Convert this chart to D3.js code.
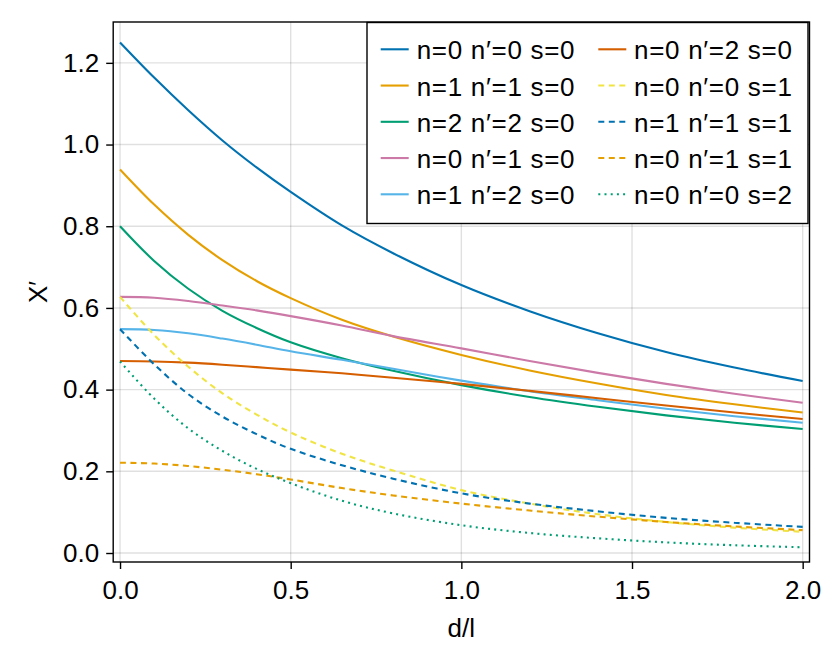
<!DOCTYPE html>
<html>
<head>
<meta charset="utf-8">
<script src="https://cdn.jsdelivr.net/npm/d3@7"></script>
<style>
  html, body { margin: 0; padding: 0; background: #fff; }
  svg { display: block; }
  text { font-family: "Liberation Sans", Arial, Helvetica, sans-serif; fill: #000; }
</style>
</head>
<body>
<svg id="chart" width="830" height="664"></svg>
<script>
// ---------- data ----------
const xs = [0, 0.1, 0.2, 0.3, 0.4, 0.5, 0.65, 0.8, 1.0, 1.2, 1.4, 1.6, 1.8, 2.0];

const s_n0_n0_s0 = [1.25, 1.164, 1.084, 1.010, 0.944, 0.884, 0.802, 0.734, 0.656, 0.592, 0.538, 0.492, 0.454, 0.421];
const s_n1_n1_s0 = [0.939, 0.853, 0.779, 0.717, 0.666, 0.624, 0.571, 0.530, 0.485, 0.447, 0.415, 0.387, 0.364, 0.344];
const s_n2_n2_s0 = [0.80, 0.715, 0.647, 0.593, 0.551, 0.516, 0.477, 0.446, 0.411, 0.382, 0.358, 0.337, 0.319, 0.3035];
const s_n0_n1_s0 = [0.627, 0.625, 0.617, 0.606, 0.594, 0.580, 0.557, 0.531, 0.501, 0.470, 0.441, 0.414, 0.390, 0.368];
const s_n1_n2_s0 = [0.548, 0.546, 0.538, 0.525, 0.51, 0.494, 0.473, 0.451, 0.422, 0.396, 0.374, 0.353, 0.335, 0.319];
const s_n0_n2_s0 = [0.470, 0.469, 0.466, 0.461, 0.455, 0.449, 0.440, 0.429, 0.414, 0.397, 0.379, 0.361, 0.344, 0.328];
const s_n0_n0_s1 = [0.627, 0.534, 0.456, 0.391, 0.339, 0.295, 0.243, 0.202, 0.154, 0.121, 0.095, 0.076, 0.062, 0.052];
const s_n1_n1_s1 = [0.548, 0.462, 0.389, 0.334, 0.291, 0.255, 0.215, 0.182, 0.146, 0.121, 0.102, 0.086, 0.074, 0.064];
const s_n0_n1_s1 = [0.221, 0.219, 0.213, 0.204, 0.193, 0.180, 0.159, 0.141, 0.121, 0.104, 0.089, 0.076, 0.065, 0.056];
const s_n0_n0_s2 = [0.469, 0.378, 0.305, 0.250, 0.206, 0.171, 0.128, 0.097, 0.068, 0.049, 0.036, 0.026, 0.019, 0.014];

const seriesLabels = ["n=0 n′=0 s=0", "n=1 n′=1 s=0", "n=2 n′=2 s=0", "n=0 n′=1 s=0", "n=1 n′=2 s=0",
                      "n=0 n′=2 s=0", "n=0 n′=0 s=1", "n=1 n′=1 s=1", "n=0 n′=1 s=1", "n=0 n′=0 s=2"];
const seriesValues = [s_n0_n0_s0, s_n1_n1_s0, s_n2_n2_s0, s_n0_n1_s0, s_n1_n2_s0,
                      s_n0_n2_s0, s_n0_n0_s1, s_n1_n1_s1, s_n0_n1_s1, s_n0_n0_s2];
const xTicks = [0.0, 0.5, 1.0, 1.5, 2.0];
const yTicks = [0.0, 0.2, 0.4, 0.6, 0.8, 1.0, 1.2];
const xLabel = "d/l";
const yLabel = "X′";

// ---------- styles ----------
const colors = ["#0072B2", "#E69F00", "#009E73", "#CC79A7", "#56B4E9",
                "#D55E00", "#F0E442", "#0072B2", "#E69F00", "#009E73"];
const dashes = [null, null, null, null, null, null, "6,4.5", "6,4.5", "6,4.5", "2,4.2"];

// ---------- layout ----------
const L = 113.2, R = 809.5, T = 22, B = 562;
const svg = d3.select("#chart");
const x = d3.scaleLinear().domain([-0.02, 2.02]).range([L, R]);
const y = d3.scaleLinear().domain([-0.022, 1.30]).range([B, T]);

// grid
const grid = svg.append("g");
grid.selectAll("line.vx").data(xTicks).enter().append("line")
  .attr("x1", d => x(d)).attr("x2", d => x(d)).attr("y1", T).attr("y2", B)
  .attr("stroke", "#000").attr("stroke-opacity", 0.12).attr("stroke-width", 1.4);
grid.selectAll("line.hy").data(yTicks).enter().append("line")
  .attr("x1", L).attr("x2", R).attr("y1", d => y(d)).attr("y2", d => y(d))
  .attr("stroke", "#000").attr("stroke-opacity", 0.12).attr("stroke-width", 1.4);

// clip
svg.append("clipPath").attr("id", "clip").append("rect")
  .attr("x", L).attr("y", T).attr("width", R - L).attr("height", B - T);

// lines
const line = d3.line().x((d, i) => x(xs[i])).y(d => y(d)).curve(d3.curveCatmullRom.alpha(0.5));
const plot = svg.append("g").attr("clip-path", "url(#clip)");
seriesValues.forEach((vals, k) => {
  plot.append("path").datum(vals)
    .attr("d", line)
    .attr("fill", "none")
    .attr("stroke", colors[k])
    .attr("stroke-width", 2.1)
    .attr("stroke-dasharray", dashes[k]);
});

// axes
const xAxis = d3.axisBottom(x).tickValues(xTicks).tickFormat(d3.format(".1f")).tickSizeOuter(0).tickSizeInner(7).tickPadding(12);
const yAxis = d3.axisLeft(y).tickValues(yTicks).tickFormat(d3.format(".1f")).tickSizeOuter(0).tickSizeInner(7).tickPadding(7);
const gx = svg.append("g").attr("transform", `translate(0,${B})`).call(xAxis);
const gy = svg.append("g").attr("transform", `translate(${L},0)`).call(yAxis);
[gx, gy].forEach(g => {
  g.select(".domain").remove();
  g.selectAll(".tick line").attr("stroke", "#000").attr("stroke-width", 1.4);
  g.selectAll(".tick text").attr("font-size", 26).attr("fill", "#000")
    .style("font-family", '"Liberation Sans", Arial, sans-serif');
});

// frame
svg.append("rect").attr("x", L).attr("y", T).attr("width", R - L).attr("height", B - T)
  .attr("fill", "none").attr("stroke", "#000").attr("stroke-width", 1.4);

// axis labels
svg.append("text").attr("x", (L + R) / 2).attr("y", 636.5).attr("text-anchor", "middle")
  .attr("font-size", 26).text(xLabel);
svg.append("text").attr("transform", `translate(46.5,${(T + B) / 2}) rotate(-90)`)
  .attr("text-anchor", "middle").attr("font-size", 26).text(yLabel);

// legend
const lg = svg.append("g");
lg.append("rect").attr("x", 367).attr("y", 22.5).attr("width", 441).attr("height", 201)
  .attr("fill", "#fff").attr("stroke", "#000").attr("stroke-width", 1.4);
const rows = 5, rowH = 36.25, base0 = 59.3;
const colLineX = [380.7, 598.3], colTextX = [416.7, 634];
seriesLabels.forEach((lab, k) => {
  const c = Math.floor(k / rows), r = k % rows;
  const by = base0 + r * rowH;
  lg.append("line").attr("x1", colLineX[c]).attr("x2", colLineX[c] + 28)
    .attr("y1", by - 10).attr("y2", by - 10)
    .attr("stroke", colors[k]).attr("stroke-width", 2.1)
    .attr("stroke-dasharray", dashes[k]);
  lg.append("text").attr("x", colTextX[c]).attr("y", by).attr("font-size", 26)
    .attr("letter-spacing", 0.7).text(lab);
});
</script>
</body>
</html>
